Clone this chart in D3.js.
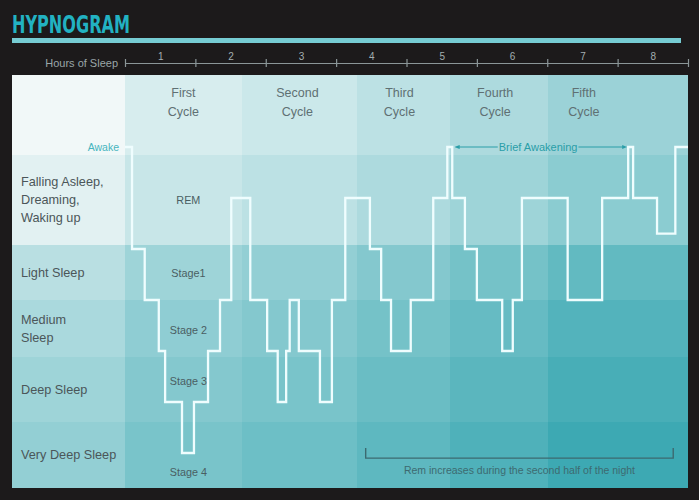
<!DOCTYPE html>
<html>
<head>
<meta charset="utf-8">
<script src="https://cdn.jsdelivr.net/npm/d3@7"></script>
<style>
  body { margin: 0; background: #1c1a1b; }
  svg text { font-family: "Liberation Sans", Arial, sans-serif; }
</style>
</head>
<body>
<div id="chart"></div>
<script>
// hours where the sleep depth changes, and the depth reached there
// depth: 0 awake, 1 REM, 2 light (top), 3 light/medium, 4 medium/deep, 5 deep, 6 very deep
var stepHours  = [0, 0.10, 0.28, 0.48, 0.57, 0.81, 0.98, 1.18, 1.35, 1.51,
                  1.78, 2.02, 2.17, 2.29, 2.34, 2.47, 2.77, 2.94, 3.13,
                  3.48, 3.64, 3.78, 4.06, 4.38, 4.58, 4.65,
                  4.83, 5.00, 5.36, 5.51, 5.64, 6.29, 6.78, 7.15, 7.22, 7.56, 7.82, 8];
var stepLevels = [0, 2, 3, 4, 5, 6, 5, 4, 3, 1,
                  3, 4, 5, 4, 3, 4, 5, 3, 1,
                  2, 3, 4, 3, 1, 0, 1,
                  2, 3, 4, 3, 1, 3, 1, 0, 1, 1.7, 0, 0];

var hourLabels = ["1", "2", "3", "4", "5", "6", "7", "8"];

var cycleNames  = ["First", "Second", "Third", "Fourth", "Fifth"];
var cycleStarts = [0, 1.66, 3.30, 4.62, 6.01];
var cycleLabelHours = [0.83, 2.45, 3.90, 5.26, 6.52];

var rowLabels = [[], ["Falling Asleep,", "Dreaming,", "Waking up"], ["Light Sleep"],
                 ["Medium", "Sleep"], ["Deep Sleep"], ["Very Deep Sleep"]];
var rowEdges = [-1.41, 0.16, 1.92, 3.0, 4.12, 5.39, 6.69];

var stageNames  = ["REM", "Stage1", "Stage 2", "Stage 3", "Stage 4"];
var stageLevels = [1.04, 2.47, 3.59, 4.59, 6.37];

var width = 699, height = 500;

var svg = d3.select("#chart")
    .append("svg")
    .attr("width", width)
    .attr("height", height);

var x = d3.scaleLinear().domain([0, 8]).range([125, 688]);
var y = d3.scaleLinear().domain([0, 6]).range([147, 453]);

// title
svg.append("text")
    .attr("x", 12)
    .attr("y", 33)
    .attr("textLength", 118)
    .attr("lengthAdjust", "spacingAndGlyphs")
    .style("font-family", "'Liberation Sans Narrow', 'DejaVu Sans Condensed', sans-serif")
    .style("font-weight", "bold")
    .style("font-size", "25px")
    .attr("fill", "#22b2c2")
    .text("HYPNOGRAM");

svg.append("rect")
    .attr("x", 12).attr("y", 38)
    .attr("width", 669).attr("height", 5)
    .attr("fill", "#76ccd3");

// background cells
var colEdges = [12].concat(cycleStarts.map(function(d) { return x(d); }), [x(8)]);
var rowW = [0, 0.08, 0.3, 0.38, 0.44, 0.5];
var colW = [0, 0.14, 0.2, 0.28, 0.36, 0.46];
var shade = d3.interpolateRgb("#f1f8f8", "#35a6b0");

var cells = [];
for (var r = 0; r < rowEdges.length - 1; r++) {
    for (var c = 0; c < colEdges.length - 1; c++) {
        cells.push({r: r, c: c});
    }
}

svg.append("g").selectAll("rect")
    .data(cells)
  .enter().append("rect")
    .attr("x", function(d) { return Math.round(colEdges[d.c]); })
    .attr("y", function(d) { return Math.round(y(rowEdges[d.r])); })
    .attr("width", function(d) { return Math.round(colEdges[d.c + 1]) - Math.round(colEdges[d.c]); })
    .attr("height", function(d) { return Math.round(y(rowEdges[d.r + 1])) - Math.round(y(rowEdges[d.r])); })
    .attr("shape-rendering", "crispEdges")
    .attr("fill", function(d) { return shade(rowW[d.r] + colW[d.c]); });

// hours axis
var axisG = svg.append("g")
    .attr("transform", "translate(0,63)");

axisG.append("g")
    .call(d3.axisBottom(x).ticks(8).tickSizeInner(4).tickSizeOuter(0).tickFormat(""))
    .call(function(g) {
        g.select(".domain").attr("stroke", "#8b9698").attr("stroke-width", 1.2);
        g.selectAll(".tick line").attr("y1", -4).attr("y2", 4)
            .attr("stroke", "#8b9698").attr("stroke-width", 1.2);
    });

axisG.append("g")
    .call(d3.axisTop(x).tickValues(hourLabels.map(function(d) { return +d - 0.5; }))
        .tickSize(0).tickPadding(3)
        .tickFormat(function(d, i) { return hourLabels[i]; }))
    .call(function(g) {
        g.select(".domain").remove();
        g.selectAll("text")
            .attr("fill", "#a3aeb0")
            .style("font-size", "10px")
            .style("font-family", "'Liberation Sans', Arial, sans-serif");
    });

axisG.append("text")
    .attr("x", 118)
    .attr("y", 4)
    .attr("text-anchor", "end")
    .attr("fill", "#9aa6a8")
    .style("font-size", "11px")
    .text("Hours of Sleep");

// row labels
rowLabels.forEach(function(lines, r) {
    var cy = (y(rowEdges[r]) + y(rowEdges[r + 1])) / 2;
    lines.forEach(function(t, i) {
        svg.append("text")
            .attr("x", 21)
            .attr("y", cy + (i - (lines.length - 1) / 2) * 18)
            .attr("dy", "0.35em")
            .attr("fill", "#4b5659")
            .style("font-size", "12.7px")
            .text(t);
    });
});

// cycle labels
cycleNames.forEach(function(name, i) {
    [name, "Cycle"].forEach(function(t, j) {
        svg.append("text")
            .attr("x", x(cycleLabelHours[i]))
            .attr("y", y(-1.06) + j * 19)
            .attr("dy", "0.35em")
            .attr("text-anchor", "middle")
            .attr("fill", "#5f7073")
            .style("font-size", "12.5px")
            .text(t);
    });
});

// stage labels
svg.append("g").selectAll("text")
    .data(stageNames)
  .enter().append("text")
    .attr("x", x(0.9))
    .attr("y", function(d, i) { return y(stageLevels[i]); })
    .attr("dy", "0.35em")
    .attr("text-anchor", "middle")
    .attr("fill", "#4a5e62")
    .style("font-size", "10.8px")
    .text(function(d) { return d; });

svg.append("text")
    .attr("x", 119)
    .attr("y", y(0))
    .attr("dy", "0.35em")
    .attr("text-anchor", "end")
    .attr("fill", "#47b5be")
    .style("font-size", "10.5px")
    .text("Awake");

// hypnogram line
var line = d3.line()
    .x(function(d, i) { return x(stepHours[i]); })
    .y(function(d, i) { return y(stepLevels[i]); })
    .curve(d3.curveStepAfter);

svg.append("path")
    .datum(stepLevels)
    .attr("fill", "none")
    .attr("stroke", "#effdfe")
    .attr("stroke-width", 2.3)
    .attr("stroke-linejoin", "miter")
    .attr("d", line);

// brief awakening annotation
var defs = svg.append("defs");
defs.append("marker")
    .attr("id", "arrow")
    .attr("viewBox", "0 0 10 10")
    .attr("refX", 5).attr("refY", 5)
    .attr("markerWidth", 5).attr("markerHeight", 5)
    .attr("orient", "auto-start-reverse")
  .append("path")
    .attr("d", "M0,1 L10,5 L0,9 Z")
    .attr("fill", "#2a9ea8");

var briefText = svg.append("text")
    .attr("x", x(5.87))
    .attr("y", y(0))
    .attr("dy", "0.35em")
    .attr("text-anchor", "middle")
    .attr("fill", "#2a9ea8")
    .style("font-size", "11px")
    .text("Brief Awakening");
var bb = briefText.node().getBBox();

svg.append("line")
    .attr("x1", x(4.72)).attr("x2", bb.x - 1)
    .attr("y1", y(0)).attr("y2", y(0))
    .attr("stroke", "#2a9ea8").attr("stroke-width", 1)
    .attr("marker-start", "url(#arrow)");
svg.append("line")
    .attr("x1", bb.x + bb.width + 1).attr("x2", x(7.10))
    .attr("y1", y(0)).attr("y2", y(0))
    .attr("stroke", "#2a9ea8").attr("stroke-width", 1)
    .attr("marker-end", "url(#arrow)");

// REM bracket
svg.append("path")
    .attr("fill", "none")
    .attr("stroke", "#3c6a70")
    .attr("stroke-width", 1.4)
    .attr("d", "M" + x(3.42) + "," + y(5.9) + "V" + y(6.1) + "H" + x(7.79) + "V" + y(5.9));

svg.append("text")
    .attr("x", (x(3.42) + x(7.79)) / 2)
    .attr("y", y(6.33))
    .attr("dy", "0.35em")
    .attr("text-anchor", "middle")
    .attr("fill", "#3d6a70")
    .style("font-size", "10.5px")
    .text("Rem increases during the second half of the night");
</script>
</body>
</html>
